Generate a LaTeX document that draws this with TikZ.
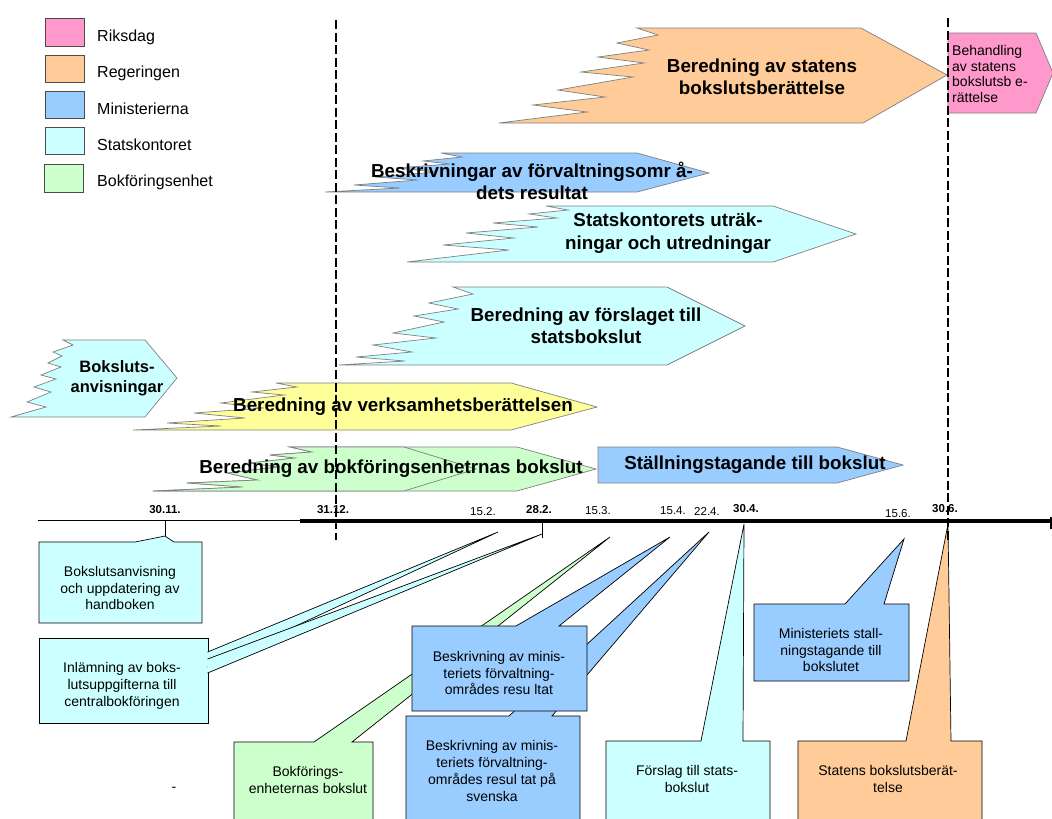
\documentclass[tikz,border=0pt]{standalone}
\usepackage{fontspec}
\setmainfont{Liberation Sans}
\usepackage{tikz}
\usepackage{color}
\definecolor{riksdagpink}{HTML}{FF99CC}
\definecolor{regorange}{HTML}{FFCC99}
\definecolor{minblue}{HTML}{99CCFF}
\definecolor{statcyan}{HTML}{CCFFFF}
\definecolor{bokgreen}{HTML}{CCFFCC}
\definecolor{verkyellow}{HTML}{FFFF99}

\begin{document}
\begin{tikzpicture}[x=1pt,y=-1pt,
   phase/.style={draw=gray,line width=0.7pt},
   phasetext/.style={font=\bfseries\fontsize{18.8}{22.5}\selectfont,align=center,inner sep=0pt},
   bubble/.style={draw=black,line width=0.7pt},
   bubbletext/.style={font=\fontsize{14}{16.7}\selectfont,align=center,inner sep=0pt},
   keybox/.style={draw=black!70,line width=0.8pt},
   keytext/.style={font=\fontsize{16}{18}\selectfont,anchor=base west,inner sep=0pt},
   datelabel/.style={font=\fontsize{11.5}{13}\selectfont,inner sep=0pt},
   datebold/.style={datelabel,font=\bfseries\fontsize{11.5}{13}\selectfont},
   deadline/.style={line width=1.6pt,dash pattern=on 9pt off 3.5pt}]
\useasboundingbox (0,0) rectangle (1052,819);

\filldraw[keybox,fill=riksdagpink] (45,18) rectangle (84,46);
\node[keytext] (riksdag) at (97,41.5) {Riksdag};
\filldraw[keybox,fill=regorange] (45,55) rectangle (84,82);
\node[keytext] (regeringen) at (97,77.8) {Regeringen};
\filldraw[keybox,fill=minblue] (45,91) rectangle (84,118);
\node[keytext] (ministerierna) at (97,114.2) {Ministerierna};
\filldraw[keybox,fill=statcyan] (45,127) rectangle (84,154);
\node[keytext] (statskontoret) at (97,150.6) {Statskontoret};
\filldraw[keybox,fill=bokgreen] (44,164) rectangle (83,192);
\node[keytext] (bokforing) at (97,186.8) {Bokföringsenhet};

\filldraw[phase,fill=regorange] (637,28) -- (658,35) -- (617,43) -- (649,50) -- (598,57) -- (644,63)
   -- (581,72) -- (633,77) -- (558,90) -- (605,97) -- (533,105) -- (587,112) -- (499,123)
   -- (863,123) -- (947,75) -- (861,28) -- cycle;
\node[phasetext] (statberedning) at (762,77) {Beredning av statens\\bokslutsberättelse};
\filldraw[phase,fill=riksdagpink] (948,33) -- (1036,33) -- (1053,73) -- (1036,113) -- (948,113) -- cycle;
\node[anchor=west,align=left,inner sep=0pt,font=\fontsize{14}{15.5}\selectfont] (behandling) at (952,74)
   {Behandling\\av statens\\bokslutsb e-\\rättelse};

\filldraw[phase,fill=minblue] (441,153) -- (462,157) -- (423,161) -- (450,164) -- (396,168) -- (437,172)
   -- (375,177) -- (418,180) -- (354,185) -- (400,188) -- (325,192)
   -- (637,192) -- (709,173) -- (637,153) -- cycle;
\node[phasetext] (beskrivningar) at (532,181) {Beskrivningar av förvaltningsomr å-\\dets resultat};

\filldraw[phase,fill=statcyan] (546,206) -- (568,210) -- (529,214) -- (557,218) -- (493,223) -- (538,227)
   -- (466,233) -- (514,238) -- (443,245) -- (509,250) -- (407,262)
   -- (773,262) -- (856,234) -- (773,206) -- cycle;
\node[phasetext] (utrakningar) at (668,233) {Statskontorets uträk-\\ningar och utredningar};

\filldraw[phase,fill=statcyan] (453,287) -- (473,294) -- (429,303) -- (458,309) -- (414,316) -- (444,322)
   -- (393,333) -- (436,338) -- (373,345) -- (412,352) -- (356,357) -- (405,361) -- (339,365)
   -- (667,365) -- (745,326) -- (667,287) -- cycle;
\node[phasetext] (forslaget) at (586,326) {Beredning av förslaget till\\statsbokslut};

\filldraw[phase,fill=statcyan] (63,340) -- (73,345) -- (53,352) -- (62,356) -- (48,363) -- (61,367)
   -- (41,375) -- (56,379) -- (34,387) -- (51,392) -- (27,402) -- (46,407) -- (11,417)
   -- (145,417) -- (177,378) -- (145,340) -- cycle;
\node[phasetext,font=\bfseries\fontsize{16.5}{20}\selectfont] (anvisningar) at (117,378) {Boksluts-\\anvisningar};

\filldraw[phase,fill=verkyellow] (276,383) -- (297,387) -- (252,392) -- (284,395) -- (221,403) -- (264,408)
   -- (194,413) -- (245,418) -- (167,423) -- (221,426) -- (133,430)
   -- (511,430) -- (597,407) -- (511,383) -- cycle;
\node[phasetext] (verksamhet) at (403,407) {Beredning av verksamhetsberättelsen};

\filldraw[phase,fill=bokgreen] (290,447) -- (312,452) -- (270,455) -- (295,458) -- (250,463) -- (278,467)
   -- (227,473) -- (258,480) -- (187,483) -- (243,487) -- (153,491)
   -- (517,491) -- (596,469) -- (517,447) -- cycle;
\filldraw[phase,fill=bokgreen] (290,447) -- (312,452) -- (270,455) -- (295,458) -- (250,463) -- (278,467)
   -- (227,473) -- (258,480) -- (187,483) -- (243,487) -- (153,491)
   -- (404,491) -- (476,469) -- (404,447) -- cycle;
\node[phasetext] (enheternas) at (391,469) {Beredning av bokföringsenhetrnas bokslut};

\filldraw[phase,fill=minblue] (598,447) -- (837,447) -- (903,465) -- (837,483) -- (598,483) -- cycle;
\node[phasetext] (stallning) at (755,465) {Ställningstagande till bokslut};

\draw[line width=0.8pt] (38,520) -- (300,520);
\draw[line width=4.5pt] (300,521) -- (1050,521);
\draw[line width=2pt] (1051,517) -- (1051,529);

\node[datebold] (l3011) at (165,510) {30.11.};
\node[datebold] (l3112) at (333,510) {31.12.};
\node[datelabel] (l152) at (483,512) {15.2.};
\node[datebold] (l282) at (539,510) {28.2.};
\node[datelabel] (l153) at (598,511) {15.3.};
\node[datelabel] (l154) at (673,511) {15.4.};
\node[datelabel] (l224) at (707,511) {22.4.};
\node[datebold] (l304) at (746,509) {30.4.};
\node[datelabel] (l156) at (898,514) {15.6.};
\node[datebold] (l306) at (945,509) {30.6.};

\coordinate (a3011) at (165,520);
\coordinate (t3011) at (165,536);
\coordinate (a282) at (542,522);
\coordinate (t282) at (542,534);
\coordinate (t152) at (498,532);
\coordinate (t153) at (610,537);
\coordinate (t154) at (670,537);
\coordinate (t224) at (709,532);
\coordinate (t304) at (744,524);
\coordinate (t156) at (904,539);
\coordinate (t306) at (948,524);

\draw[line width=0.6pt] (a3011) -- (t3011);
\draw[line width=0.6pt] (a282) -- ++(0,16);

\filldraw[bubble,fill=statcyan] (39,542) -- (135,542) -- (t3011) -- (174,542) -- (202,542) -- (202,623) -- (39,623) -- cycle;
\node[bubbletext] (handboken) at (120,588) {Bokslutsanvisning\\och uppdatering av\\handboken};

\filldraw[bubble,fill=statcyan] (39,638) rectangle (208,723);
\filldraw[bubble,fill=statcyan] (207.6,652) -- (t152) -- (207.6,667);
\filldraw[bubble,fill=statcyan] (207.6,659) -- (t282) -- (207.6,673);
\node[bubbletext] (inlamning) at (122,686) {Inlämning av boks-\\lutsuppgifterna till\\centralbokföringen};

\filldraw[bubble,fill=bokgreen] (234,742) -- (314,742) -- (t153) -- (352,742) -- (373,742) -- (373,826) -- (234,826) -- cycle;
\node[bubbletext] (enhetbokslut) at (308,780) {Bokförings-\\enheternas bokslut};
\node[bubbletext] (streck) at (174,789) {-};

\filldraw[bubble,fill=minblue] (406,716) -- (509,716) -- (t224) -- (552,716) -- (580,716) -- (580,826) -- (406,826) -- cycle;
\node[bubbletext] (svenska) at (492,771) {Beskrivning av minis-\\teriets förvaltning-\\områdes resul tat på\\svenska};

\filldraw[bubble,fill=minblue] (412,626) -- (516,626) -- (t154) -- (559,626) -- (587,626) -- (587,711) -- (412,711) -- cycle;
\node[bubbletext] (resultat) at (499,673) {Beskrivning av minis-\\teriets förvaltning-\\områdes resu ltat};

\filldraw[bubble,fill=statcyan] (606,741) -- (701,741) -- (t304) -- (743,741) -- (770,741) -- (770,826) -- (606,826) -- cycle;
\node[bubbletext] (statsbokslut) at (687,779) {Förslag till stats-\\bokslut};

\filldraw[bubble,fill=minblue] (754,604) -- (845,604) -- (t156) -- (884,604) -- (909,604) -- (909,681) -- (754,681) -- cycle;
\node[bubbletext] (ministeriets) at (831,650) {Ministeriets stall-\\ningstagande till\\bokslutet};

\filldraw[bubble,fill=regorange] (798,741) -- (906,741) -- (t306) -- (951,741) -- (982,741) -- (982,826) -- (798,826) -- cycle;
\node[bubbletext] (berattelse) at (888,779) {Statens bokslutsberät-\\telse};

\draw[deadline] (336,20) -- (336,540);
\draw[deadline] (948,18) -- (948,540);
\end{tikzpicture}
\end{document}
